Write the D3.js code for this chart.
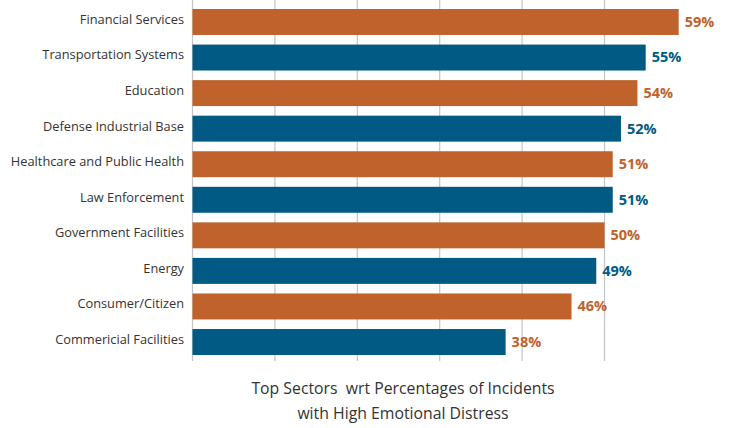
<!DOCTYPE html>
<html>
<head>
<meta charset="utf-8">
<script src="https://cdn.jsdelivr.net/npm/d3@7"></script>
<style>
  body { margin: 0; background: #fff; }
  text { font-family: "Open Sans", sans-serif; }
</style>
</head>
<body>
<script>
var width = 733;
var height = 428;

// sector names, top to bottom
let sectors = ["Financial Services", "Transportation Systems", "Education", "Defense Industrial Base",
  "Healthcare and Public Health", "Law Enforcement", "Government Facilities", "Energy",
  "Consumer/Citizen", "Commericial Facilities"];
let percents = [59, 55, 54, 52, 51, 51, 50, 49, 46, 38];
// label colour as printed in the original (last one is orange there)
let labelColors = ["o", "b", "o", "b", "o", "b", "o", "b", "o", "o"];
let gridTicks = [0, 10, 20, 30, 40, 50];
let titleLines = ["Top Sectors  wrt Percentages of Incidents", "with High Emotional Distress"];

var orange = "#c0622b";
var blue = "#005a84";

var svg = d3.select("body").append("svg").attr("width", width).attr("height", height);

var x = d3.scaleLinear().domain([0, 10]).range([192.5, 274.9]);
var y = d3.scaleBand().domain(sectors).range([4.2, 359.8]).paddingInner(0.27).paddingOuter(0.135);

// vertical gridlines
svg.append("g")
  .selectAll("line")
  .data(gridTicks)
  .enter().append("line")
  .attr("x1", function (d) { return x(d); })
  .attr("x2", function (d) { return x(d); })
  .attr("y1", 0)
  .attr("y2", 361)
  .attr("stroke", "#c4c4c8")
  .attr("stroke-width", 1.2);

svg.append("g")
  .selectAll("rect")
  .data(sectors)
  .enter().append("rect")
  .attr("x", x(0))
  .attr("y", function (d) { return y(d); })
  .attr("width", function (d, i) { return x(percents[i]) - x(0); })
  .attr("height", y.bandwidth())
  .attr("fill", function (d, i) { return i % 2 == 0 ? orange : blue; });

// category labels
svg.append("g")
  .selectAll("text")
  .data(sectors)
  .enter().append("text")
  .attr("x", 184)
  .attr("y", function (d) { return y(d) + y.bandwidth() / 2 - 1.5; })
  .attr("text-anchor", "end")
  .attr("dominant-baseline", "middle")
  .attr("font-size", 12.8)
  .attr("fill", "#333")
  .text(function (d) { return d; });

// value labels
svg.append("g")
  .selectAll("text")
  .data(sectors)
  .enter().append("text")
  .attr("x", function (d, i) { return x(percents[i]) + 6; })
  .attr("y", function (d) { return y(d) + y.bandwidth() / 2 + 1; })
  .attr("dominant-baseline", "middle")
  .attr("font-size", 14.5)
  .attr("font-weight", "bold")
  .attr("fill", function (d, i) { return labelColors[i] == "o" ? orange : blue; })
  .text(function (d, i) { return percents[i] + "%"; });

svg.append("g")
  .selectAll("text")
  .data(titleLines)
  .enter().append("text")
  .attr("x", 403)
  .attr("y", function (d, i) { return 394 + i * 25; })
  .attr("text-anchor", "middle")
  .attr("font-size", 15.8)
  .attr("fill", "#333")
  .style("white-space", "pre")
  .text(function (d) { return d; });
</script>
</body>
</html>
